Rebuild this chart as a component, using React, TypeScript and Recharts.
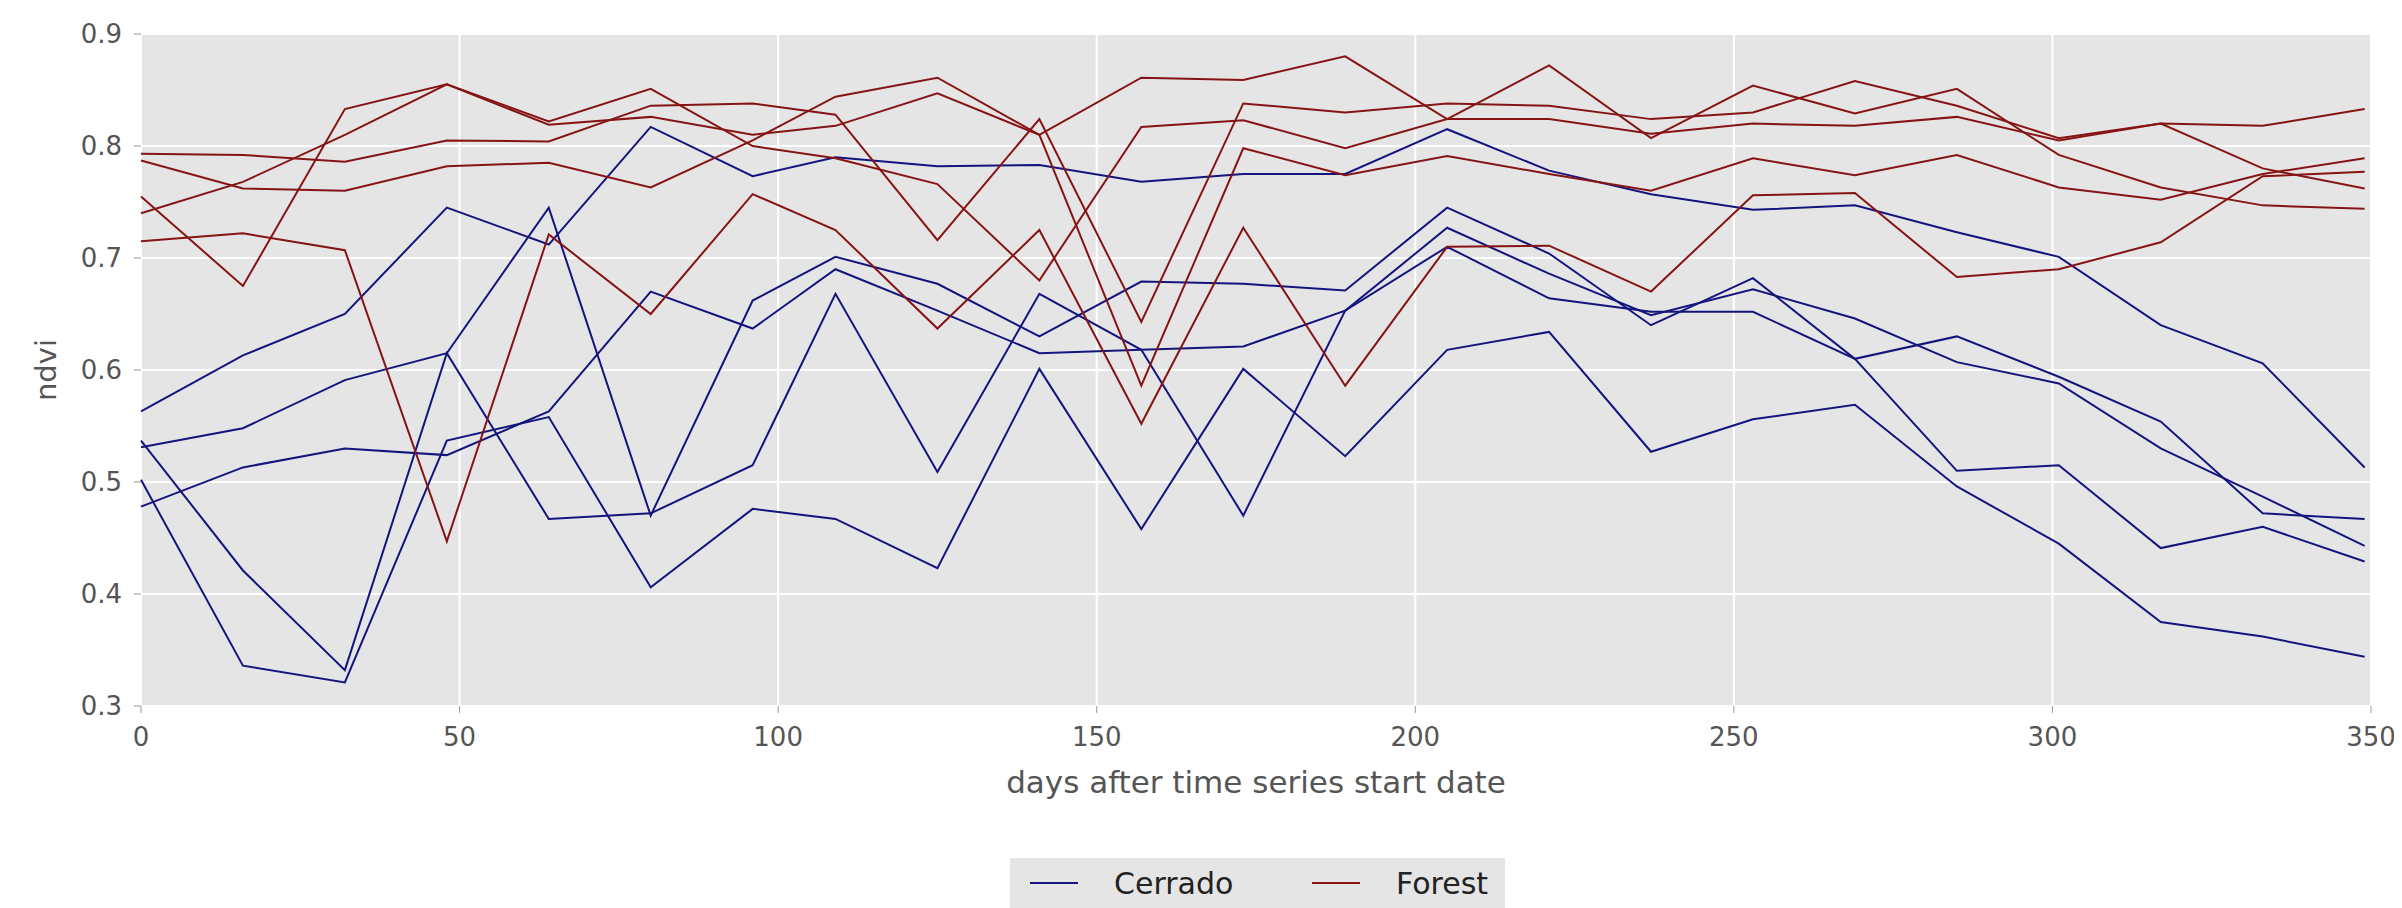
import { LineChart, Line, XAxis, YAxis, CartesianGrid, Legend } from "recharts";

// days after start (16-day composites, one short gap at the year change)
const DAYS = [0, 16, 32, 48, 64, 80, 96, 109, 125, 141, 157, 173, 189, 205, 221, 237, 253, 269, 285, 301, 317, 333, 349];

const CERRADO_1 = [0.563, 0.613, 0.65, 0.745, 0.712, 0.817, 0.773, 0.79, 0.782, 0.783, 0.768, 0.775, 0.775, 0.815, 0.778, 0.757, 0.743, 0.747, 0.723, 0.701, 0.64, 0.606, 0.513];
const CERRADO_2 = [0.531, 0.548, 0.591, 0.615, 0.745, 0.47, 0.662, 0.701, 0.677, 0.63, 0.679, 0.677, 0.671, 0.745, 0.704, 0.64, 0.682, 0.61, 0.63, 0.594, 0.554, 0.472, 0.467];
const CERRADO_3 = [0.537, 0.421, 0.332, 0.615, 0.467, 0.472, 0.515, 0.668, 0.509, 0.668, 0.618, 0.47, 0.653, 0.727, 0.686, 0.649, 0.672, 0.646, 0.607, 0.588, 0.53, 0.487, 0.443];
const CERRADO_4 = [0.502, 0.336, 0.321, 0.537, 0.558, 0.406, 0.476, 0.467, 0.423, 0.601, 0.458, 0.601, 0.523, 0.618, 0.634, 0.527, 0.556, 0.569, 0.496, 0.445, 0.375, 0.362, 0.344];
const CERRADO_5 = [0.478, 0.513, 0.53, 0.524, 0.563, 0.67, 0.637, 0.69, 0.653, 0.615, 0.618, 0.621, 0.653, 0.71, 0.664, 0.652, 0.652, 0.61, 0.51, 0.515, 0.441, 0.46, 0.429];

const FOREST_1 = [0.793, 0.792, 0.786, 0.805, 0.804, 0.836, 0.838, 0.828, 0.716, 0.824, 0.643, 0.838, 0.83, 0.838, 0.836, 0.824, 0.83, 0.858, 0.836, 0.807, 0.82, 0.78, 0.762];
const FOREST_2 = [0.787, 0.762, 0.76, 0.782, 0.785, 0.763, 0.805, 0.844, 0.861, 0.81, 0.861, 0.859, 0.88, 0.824, 0.872, 0.807, 0.854, 0.829, 0.851, 0.792, 0.763, 0.747, 0.744];
const FOREST_3 = [0.755, 0.675, 0.833, 0.855, 0.822, 0.851, 0.8, 0.789, 0.766, 0.68, 0.817, 0.823, 0.798, 0.824, 0.824, 0.811, 0.82, 0.818, 0.826, 0.805, 0.82, 0.818, 0.833];
const FOREST_4 = [0.74, 0.768, 0.81, 0.855, 0.819, 0.826, 0.81, 0.818, 0.847, 0.81, 0.586, 0.798, 0.774, 0.791, 0.775, 0.76, 0.789, 0.774, 0.792, 0.763, 0.752, 0.775, 0.789];
const FOREST_5 = [0.715, 0.722, 0.707, 0.447, 0.721, 0.65, 0.757, 0.725, 0.637, 0.725, 0.552, 0.727, 0.586, 0.71, 0.711, 0.67, 0.756, 0.758, 0.683, 0.69, 0.714, 0.773, 0.777];

const X_TICKS = [0, 50, 100, 150, 200, 250, 300, 350];
const Y_TICKS = [0.3, 0.4, 0.5, 0.6, 0.7, 0.8, 0.9];

const BLUE = "#14147e";
const RED = "#861414";
const FONT = "DejaVu Sans";
const TEXT = "#555555";

const SERIES = [
  { key: "c1", values: CERRADO_1, color: BLUE },
  { key: "c2", values: CERRADO_2, color: BLUE },
  { key: "c3", values: CERRADO_3, color: BLUE },
  { key: "c4", values: CERRADO_4, color: BLUE },
  { key: "c5", values: CERRADO_5, color: BLUE },
  { key: "f1", values: FOREST_1, color: RED },
  { key: "f2", values: FOREST_2, color: RED },
  { key: "f3", values: FOREST_3, color: RED },
  { key: "f4", values: FOREST_4, color: RED },
  { key: "f5", values: FOREST_5, color: RED },
];

const LEGEND = [
  { name: "Cerrado", color: BLUE },
  { name: "Forest", color: RED },
];

const data = DAYS.map((day, i) => {
  const row: Record<string, number> = { day };
  SERIES.forEach((s) => (row[s.key] = s.values[i]));
  return row;
});

function XLabel({ viewBox }: any) {
  return (
    <text x={viewBox.x + viewBox.width / 2} y={viewBox.y + 87} textAnchor="middle" fill={TEXT} fontSize={31} fontFamily={FONT}>
      days after time series start date
    </text>
  );
}

function YLabel({ viewBox }: any) {
  const cx = 38;
  const cy = viewBox.y + viewBox.height / 2;
  return (
    <text x={cx} y={cy} transform={`rotate(-90 ${cx} ${cy})`} textAnchor="middle" dominantBaseline="central" fill={TEXT} fontSize={29} fontFamily={FONT}>
      ndvi
    </text>
  );
}

function LegendBox() {
  return (
    <div style={{ position: "relative", width: 495, height: 50, background: "#E5E5E5", fontFamily: FONT, fontSize: 30, color: "#222" }}>
      {LEGEND.map((l, i) => (
        <div key={l.name} style={{ position: "absolute", left: 20 + i * 282, top: 0, height: 50, display: "flex", alignItems: "center" }}>
          <div style={{ width: 48, height: 2, background: l.color }} />
          <span style={{ marginLeft: 36 }}>{l.name}</span>
        </div>
      ))}
    </div>
  );
}

export default function App() {
  const tickStyle = { fill: TEXT, fontSize: 26, fontFamily: FONT };
  return (
    <div>
      <style>{`.recharts-surface { overflow: visible; }`}</style>
      <LineChart width={2386} height={900} data={data} margin={{ top: 18, right: 15, bottom: 102, left: 0 }}>
        <CartesianGrid fill="#E5E5E5" fillOpacity={1} stroke="#FFFFFF" strokeWidth={2} />
        <XAxis
          dataKey="day"
          type="number"
          domain={[0, 350]}
          ticks={X_TICKS}
          interval={0}
          height={100}
          axisLine={false}
          tickLine={{ stroke: "#999" }}
          tickSize={7}
          tickMargin={15}
          tick={tickStyle}
          label={XLabel}
        />
        <XAxis xAxisId="top" orientation="top" type="number" domain={[0, 350]} ticks={X_TICKS} height={8} axisLine={false} tickLine={{ stroke: "#999" }} tickSize={7} tick={false} />
        <YAxis
          type="number"
          domain={[0.3, 0.9]}
          ticks={Y_TICKS}
          interval={0}
          width={133}
          axisLine={false}
          tickLine={{ stroke: "#999" }}
          tickSize={7}
          tickMargin={12}
          tick={tickStyle}
          tickFormatter={(v: number) => v.toFixed(1)}
          label={YLabel}
        />
        <YAxis yAxisId="right" orientation="right" type="number" domain={[0.3, 0.9]} ticks={Y_TICKS} width={8} axisLine={false} tickLine={{ stroke: "#999" }} tickSize={7} tick={false} />
        {SERIES.map((s) => (
          <Line key={s.key} dataKey={s.key} type="linear" stroke={s.color} strokeWidth={2} dot={false} activeDot={false} legendType="none" isAnimationActive={false} />
        ))}
        <Legend layout="horizontal" verticalAlign="middle" align="center" content={LegendBox} wrapperStyle={{ left: 1002, top: 850, width: 495, height: 50 }} />
      </LineChart>
    </div>
  );
}
